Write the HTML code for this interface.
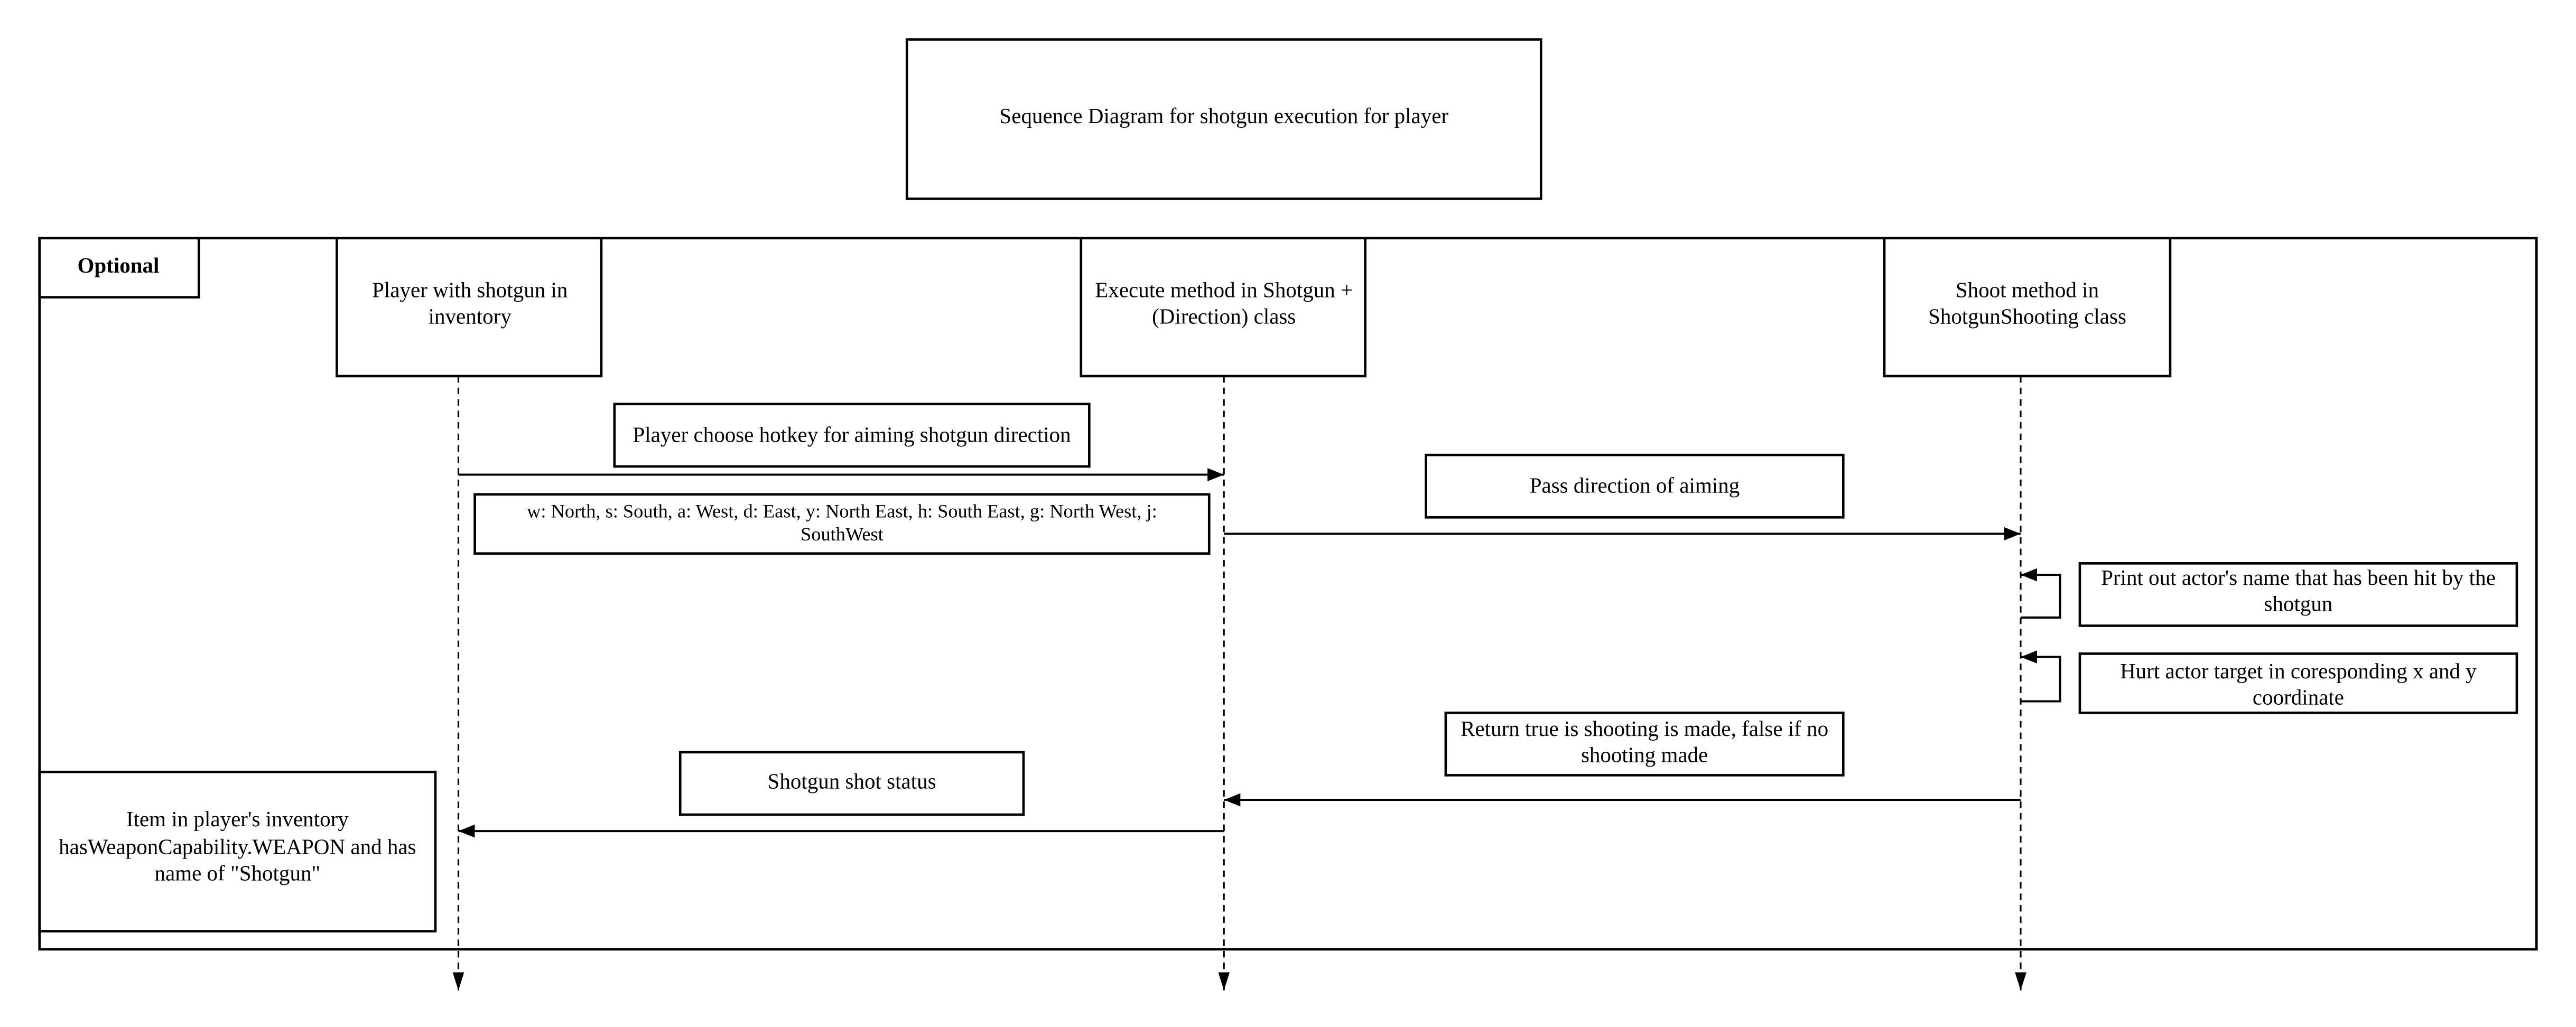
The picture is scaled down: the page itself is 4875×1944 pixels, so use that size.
<!DOCTYPE html>
<html><head><meta charset="utf-8"><style>html,body{margin:0;padding:0;background:#fff}svg{display:block}</style></head>
<body>
<svg xmlns="http://www.w3.org/2000/svg" width="4875" height="1944" viewBox="0 0 1568 625.3" font-family="'Liberation Serif', serif" font-size="13.2" text-anchor="middle">
<defs>
<marker id="a" viewBox="0 0 10 10" refX="10" refY="5" markerWidth="10" markerHeight="8" markerUnits="userSpaceOnUse" orient="auto" preserveAspectRatio="none"><path d="M0,0 L10,5 L0,10 z" fill="#000"/></marker>
<marker id="b" viewBox="0 0 10 10" refX="10" refY="5" markerWidth="11" markerHeight="7" markerUnits="userSpaceOnUse" orient="auto" preserveAspectRatio="none"><path d="M0,0 L10,5 L0,10 z" fill="#000"/></marker>
</defs>
<g fill="#fff" stroke="#000" stroke-width="1.5">
<rect x="552" y="24" width="386" height="97"/>
<rect x="24" y="145" width="1520" height="433" fill="none"/>
<rect x="24" y="145" width="97" height="36"/>
<rect x="205" y="145" width="161" height="84"/>
<rect x="658" y="145" width="173" height="84"/>
<rect x="1147" y="145" width="174" height="84"/>
<rect x="374" y="246" width="289" height="38"/>
<rect x="289" y="301" width="447" height="36"/>
<rect x="868" y="277" width="254" height="38"/>
<rect x="1266" y="343" width="266" height="38"/>
<rect x="1266" y="398" width="266" height="36"/>
<rect x="880" y="434" width="242" height="38"/>
<rect x="414" y="458" width="209" height="38"/>
<rect x="24" y="470" width="241" height="97"/>
</g>
<g stroke="#000" stroke-width="1" stroke-dasharray="4,3" fill="none">
<line x1="279" y1="229" x2="279" y2="603" marker-end="url(#b)"/>
<line x1="745" y1="229" x2="745" y2="603" marker-end="url(#b)"/>
<line x1="1230" y1="229" x2="1230" y2="603" marker-end="url(#b)"/>
</g>
<g stroke="#000" stroke-width="1.3" fill="none">
<line x1="279" y1="289" x2="745" y2="289" marker-end="url(#a)"/>
<line x1="745" y1="325" x2="1230" y2="325" marker-end="url(#a)"/>
<polyline points="1230,376 1254,376 1254,350 1230,350" marker-end="url(#a)"/>
<polyline points="1230,427 1254,427 1254,400 1230,400" marker-end="url(#a)"/>
<line x1="1230" y1="487" x2="745" y2="487" marker-end="url(#a)"/>
<line x1="745" y1="506" x2="279" y2="506" marker-end="url(#a)"/>
</g>
<g fill="#000">
<text x="745" y="75">Sequence Diagram for shotgun execution for player</text>
<text x="72" y="166" font-weight="bold">Optional</text>
<text x="286" y="181">Player with shotgun in</text>
<text x="286" y="197">inventory</text>
<text x="745" y="181">Execute method in Shotgun +</text>
<text x="745" y="197">(Direction) class</text>
<text x="1234" y="181">Shoot method in</text>
<text x="1234" y="197">ShotgunShooting class</text>
<text x="518.5" y="269">Player choose hotkey for aiming shotgun direction</text>
<text x="512.5" y="315" font-size="11.7">w: North, s: South, a: West, d: East, y: North East, h: South East, g: North West, j:</text>
<text x="512.5" y="329" font-size="11.7">SouthWest</text>
<text x="995" y="300">Pass direction of aiming</text>
<text x="1399" y="356">Print out actor's name that has been hit by the</text>
<text x="1399" y="372">shotgun</text>
<text x="1399" y="413">Hurt actor target in coresponding x and y</text>
<text x="1399" y="429">coordinate</text>
<text x="1001" y="448">Return true is shooting is made, false if no</text>
<text x="1001" y="464">shooting made</text>
<text x="518.5" y="480">Shotgun shot status</text>
<text x="144.5" y="503">Item in player's inventory</text>
<text x="144.5" y="520">hasWeaponCapability.WEAPON and has</text>
<text x="144.5" y="536">name of "Shotgun"</text>
</g>
</svg>
</body></html>
